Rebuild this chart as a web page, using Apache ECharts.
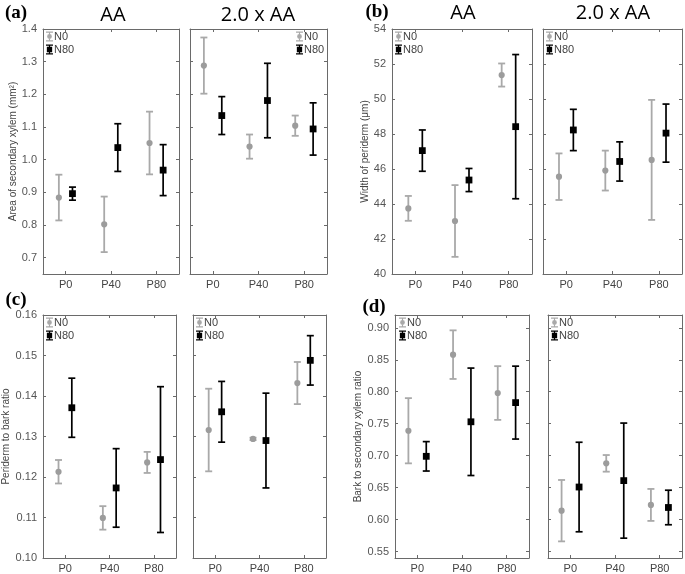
<!DOCTYPE html>
<html>
<head>
<meta charset="utf-8">
<script src="https://cdn.jsdelivr.net/npm/echarts@6/dist/echarts.min.js"></script>
<style>html,body{margin:0;padding:0;background:#fff}#c{width:685px;height:574px}</style>
</head>
<body>
<div id="c"></div>
<script>
// ---------- data ----------
const categories = ['P0', 'P40', 'P80'];
const seriesNames = ['N0', 'N80'];
const groupTitles = ['AA', '2.0 x AA'];
const panelLetters = ['(a)', '(b)', '(c)', '(d)'];
const yNames = ['Area of secondary xylem (mm\u00B2)', 'Width of periderm (\u03BCm)', 'Periderm to bark ratio', 'Bark to secondary xylem ratio'];

// [mean, error] per category
const a_AA_N0   = [[0.884, 0.070], [0.802, 0.085], [1.051, 0.096]];
const a_AA_N80  = [[0.896, 0.020], [1.037, 0.073], [0.968, 0.078]];
const a_2AA_N0  = [[1.288, 0.086], [1.040, 0.037], [1.104, 0.031]];
const a_2AA_N80 = [[1.135, 0.058], [1.181, 0.114], [1.094, 0.080]];

const b_AA_N0   = [[43.75, 0.71], [43.03, 2.05], [51.37, 0.66]];
const b_AA_N80  = [[47.05, 1.18], [45.37, 0.66], [48.42, 4.12]];
const b_2AA_N0  = [[45.56, 1.33], [45.91, 1.14], [46.52, 3.43]];
const b_2AA_N80 = [[48.23, 1.18], [46.43, 1.12], [48.05, 1.66]];

const c_AA_N0   = [[0.1213, 0.0029], [0.1099, 0.0029], [0.1236, 0.0026]];
const c_AA_N80  = [[0.1371, 0.0073], [0.1173, 0.0097], [0.1243, 0.0180]];
const c_2AA_N0  = [[0.1316, 0.0102], [0.1294, 0.0003], [0.1432, 0.0052]];
const c_2AA_N80 = [[0.1361, 0.0075], [0.1290, 0.0117], [0.1488, 0.0061]];

const d_AA_N0   = [[0.739, 0.051], [0.858, 0.038], [0.798, 0.042]];
const d_AA_N80  = [[0.699, 0.023], [0.753, 0.084], [0.783, 0.057]];
const d_2AA_N0  = [[0.614, 0.048], [0.688, 0.013], [0.623, 0.025]];
const d_2AA_N80 = [[0.651, 0.070], [0.661, 0.090], [0.619, 0.027]];

// y tick values
const ticksA = [0.7, 0.8, 0.9, 1.0, 1.1, 1.2, 1.3, 1.4];
const ticksB = [40, 42, 44, 46, 48, 50, 52, 54];
const ticksC = [0.10, 0.11, 0.12, 0.13, 0.14, 0.15, 0.16];
const ticksD = [0.55, 0.60, 0.65, 0.70, 0.75, 0.80, 0.85, 0.90];

// ---------- layout / style ----------
const N0_BAR = '#a9a9a9', N0_MARK = '#9c9c9c', N80_COL = '#000000';
const FRAME = '#6a6a6a';

const plots = [
  // panel a
  {grid:{left:43, top:29, width:136, height:245}, min:0.65, max:1.4, ticks:ticksA, dec:1, yName:yNames[0], nameGap:25, labels:true, n0:a_AA_N0, n80:a_AA_N80, off:0.15, lg:[46,31]},
  {grid:{left:190, top:29, width:137, height:245}, min:0.65, max:1.4, ticks:ticksA, dec:1, labels:false, n0:a_2AA_N0, n80:a_2AA_N80, off:0.196, lg:[296,31]},
  // panel b
  {grid:{left:392, top:29, width:140, height:245}, min:40, max:54, ticks:ticksB, dec:0, yName:yNames[1], nameGap:18, labels:true, n0:b_AA_N0, n80:b_AA_N80, off:0.15, lg:[395,31]},
  {grid:{left:543, top:29, width:139, height:245}, min:40, max:54, ticks:ticksB, dec:0, labels:false, n0:b_2AA_N0, n80:b_2AA_N80, off:0.155, lg:[546,31]},
  // panel c
  {grid:{left:43, top:315, width:133, height:243}, min:0.10, max:0.16, ticks:ticksC, dec:2, yName:yNames[2], nameGap:29, labels:true, n0:c_AA_N0, n80:c_AA_N80, off:0.15, lg:[46,317]},
  {grid:{left:193, top:315, width:133, height:243}, min:0.10, max:0.16, ticks:ticksC, dec:2, labels:false, n0:c_2AA_N0, n80:c_2AA_N80, off:0.146, lg:[196,317]},
  // panel d
  {grid:{left:395, top:315, width:134, height:244}, min:0.54, max:0.92, ticks:ticksD, dec:2, yName:yNames[3], nameGap:28, labels:true, n0:d_AA_N0, n80:d_AA_N80, off:0.2, lg:[399,317]},
  {grid:{left:548, top:315, width:134, height:244}, min:0.54, max:0.92, ticks:ticksD, dec:2, labels:false, n0:d_2AA_N0, n80:d_2AA_N80, off:0.196, lg:[551,317]}
];

const iconN0 = 'path://M0,0h10v1.6h-10zM4.2,0h1.6v3.8h-1.6zM4.2,10.2h1.6v3.8h-1.6zM0,12.4h10v1.6h-10zM1.6,7a3.4,3.4 0 1,1 6.8,0a3.4,3.4 0 1,1 -6.8,0z';
const iconN80 = 'path://M0,0h10v1.8h-10zM4.1,0h1.8v3.4h-1.8zM4.1,10.6h1.8v3.4h-1.8zM0,12.2h10v1.8h-10zM1.2,3.2h7.6v7.6h-7.6z';

function makeRender(off, kind) {
  return function (params, api) {
    const i = api.value(0), m = api.value(1), e = api.value(2);
    const bw = api.size([1, 0])[0];
    const c = api.coord([i, m]);
    const x = c[0] + off * bw;
    const yt = api.coord([i, m + e])[1];
    const yb = api.coord([i, m - e])[1];
    const hw = 3.5;
    const barCol = kind === 'N0' ? N0_BAR : N80_COL;
    const lw = kind === 'N0' ? 1.8 : 1.7;
    const children = [
      {type:'line', shape:{x1:x, y1:yt, x2:x, y2:yb}, style:{stroke:barCol, lineWidth:lw}},
      {type:'line', shape:{x1:x - hw, y1:yt, x2:x + hw, y2:yt}, style:{stroke:barCol, lineWidth:lw}},
      {type:'line', shape:{x1:x - hw, y1:yb, x2:x + hw, y2:yb}, style:{stroke:barCol, lineWidth:lw}}
    ];
    if (kind === 'N0') {
      children.push({type:'circle', shape:{cx:x, cy:c[1], r:3.1}, style:{fill:N0_MARK}});
    } else {
      children.push({type:'rect', shape:{x:x - 3.4, y:c[1] - 3.4, width:6.8, height:6.8}, style:{fill:N80_COL}});
    }
    return {type:'group', children: children};
  };
}

const option = {animation:false, grid:[], xAxis:[], yAxis:[], series:[], legend:[], graphic:[]};

plots.forEach(function (p, g) {
  option.grid.push(Object.assign({containLabel:false}, p.grid));
  const tickStyle = {show:true, inside:true, length:3, lineStyle:{color:FRAME}};
  const lineStyle = {show:true, onZero:false, lineStyle:{color:FRAME, width:1}};
  option.xAxis.push({type:'category', gridIndex:g, data:categories, boundaryGap:true, position:'bottom',
    axisLine:lineStyle, axisTick:Object.assign({alignWithLabel:true}, tickStyle),
    axisLabel:{margin:5, fontSize:11, color:'#444', fontFamily:'Liberation Sans'}, splitLine:{show:false}});
  option.xAxis.push({type:'category', gridIndex:g, data:categories, boundaryGap:true, position:'top',
    axisLine:lineStyle, axisTick:Object.assign({alignWithLabel:true}, tickStyle),
    axisLabel:{show:false}, splitLine:{show:false}});
  const yl = {type:'value', gridIndex:g, min:p.min, max:p.max, position:'left',
    axisLine:lineStyle, axisTick:Object.assign({customValues:p.ticks}, tickStyle),
    axisLabel:{show:p.labels, customValues:p.ticks, margin:6, fontSize:11, color:'#555', fontFamily:'Liberation Sans',
      formatter:(function(d){return function(v){return Number(v).toFixed(d);};})(p.dec)},
    splitLine:{show:false}};
  if (p.yName) {
    yl.name = p.yName; yl.nameLocation = 'middle'; yl.nameGap = p.nameGap;
    yl.nameTextStyle = {fontSize:10, color:'#444', fontFamily:'Liberation Sans'};
  }
  option.yAxis.push(yl);
  option.yAxis.push({type:'value', gridIndex:g, min:p.min, max:p.max, position:'right',
    axisLine:lineStyle, axisTick:Object.assign({customValues:p.ticks}, tickStyle),
    axisLabel:{show:false}, splitLine:{show:false}});

  ['N0', 'N80'].forEach(function (kind) {
    const src = kind === 'N0' ? p.n0 : p.n80;
    const off = kind === 'N0' ? -p.off : p.off;
    option.series.push({
      type:'custom', name:kind, xAxisIndex:2 * g, yAxisIndex:2 * g,
      itemStyle:{color: kind === 'N0' ? N0_MARK : N80_COL},
      renderItem: makeRender(off, kind),
      encode:{x:0, y:1},
      data: src.map(function (d, i) { return [i, d[0], d[1]]; }),
      clip:false
    });
  });

  option.legend.push({
    left:p.lg[0], top:p.lg[1], orient:'vertical', itemGap:2, itemWidth:7, itemHeight:10,
    padding:0, selectedMode:false,
    textStyle:{fontSize:11, color:'#444', fontFamily:'Liberation Sans', padding:[0,0,0,-4]},
    data:[
      {name:'N0', icon:iconN0, itemStyle:{color:N0_BAR}},
      {name:'N80', icon:iconN80, itemStyle:{color:N80_COL}}
    ]
  });
});

// titles and panel letters
const titlePos = [[113, 15, groupTitles[0]], [258, 15, groupTitles[1]], [463, 13, groupTitles[0]], [613, 13, groupTitles[1]]];
titlePos.forEach(function (t) {
  option.graphic.push({type:'text', x:t[0], y:t[1], style:{text:t[2], font:'20px "Open Sans"', fill:'#000', textAlign:'center', textVerticalAlign:'middle'}});
});
const letterPos = [[16, 13], [377, 12], [16, 300], [374, 307]];
letterPos.forEach(function (t, i) {
  option.graphic.push({type:'text', x:t[0], y:t[1], style:{text:panelLetters[i], font:'bold 19px "Liberation Serif"', fill:'#000', textAlign:'center', textVerticalAlign:'middle'}});
});

const chart = echarts.init(document.getElementById('c'), null, {renderer:'canvas'});
chart.setOption(option);
</script>
</body>
</html>
